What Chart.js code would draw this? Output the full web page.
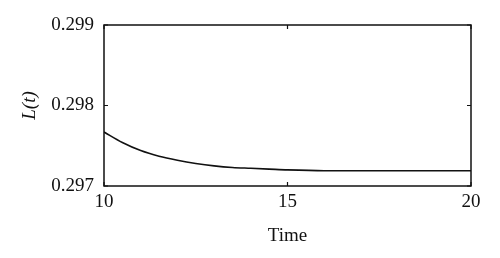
<!DOCTYPE html>
<html>
<head>
<meta charset="utf-8">
<script src="https://cdn.jsdelivr.net/npm/chart.js@4"></script>
<style>
  html, body { margin: 0; padding: 0; background: #fff; }
  #wrap { width: 500px; height: 258px; }
</style>
</head>
<body>
<div id="wrap"><canvas id="myChart" width="500" height="258"></canvas></div>
<script>
// values
var times = [10, 10.5, 11, 11.5, 12, 12.5, 13, 13.5, 14, 14.5, 15, 16, 17, 18, 19, 20];
var Lvalues = [0.29767, 0.29754, 0.29744, 0.29737, 0.29732, 0.29728, 0.29725, 0.29723,
               0.29722, 0.29721, 0.29720, 0.29719, 0.29719, 0.29719, 0.29719, 0.29719];
var xTicks = [10, 15, 20];
var yTicks = [0.297, 0.298, 0.299];

var serif = "'Liberation Serif', 'DejaVu Serif', serif";

var points = times.map(function(t, i) { return { x: t, y: Lvalues[i] }; });

// frame + inward tick marks like the original
var framePlugin = {
  id: 'frame',
  afterDatasetsDraw: function(chart) {
    var ctx = chart.ctx, a = chart.chartArea;
    var xs = chart.scales.x, ys = chart.scales.y;
    ctx.save();
    ctx.strokeStyle = '#111';
    ctx.lineWidth = 1.5;
    ctx.strokeRect(a.left, a.top, a.right - a.left, a.bottom - a.top);
    ctx.lineWidth = 1.2;
    ctx.beginPath();
    xTicks.forEach(function(v) {
      var px = xs.getPixelForValue(v);
      ctx.moveTo(px, a.bottom); ctx.lineTo(px, a.bottom - 4);
      ctx.moveTo(px, a.top); ctx.lineTo(px, a.top + 4);
    });
    yTicks.forEach(function(v) {
      var py = ys.getPixelForValue(v);
      ctx.moveTo(a.left, py); ctx.lineTo(a.left + 4, py);
      ctx.moveTo(a.right, py); ctx.lineTo(a.right - 4, py);
    });
    ctx.stroke();
    ctx.restore();
  }
};

var ctx = document.getElementById('myChart').getContext('2d');
var chart = new Chart(ctx, {
  type: 'line',
  data: {
    datasets: [{
      data: points,
      borderColor: '#111',
      borderWidth: 1.6,
      pointRadius: 0,
      fill: false,
      cubicInterpolationMode: 'monotone'
    }]
  },
  options: {
    responsive: false,
    animation: false,
    layout: { padding: { top: 25, right: 29, left: 0, bottom: 0 } },
    plugins: { legend: { display: false }, tooltip: { enabled: false } },
    scales: {
      x: {
        type: 'linear',
        min: 10, max: 20,
        afterBuildTicks: function(s) { s.ticks = xTicks.map(function(v) { return { value: v }; }); },
        afterFit: function(s) { s.height = 72; },
        grid: { display: false, drawTicks: false },
        border: { display: false },
        ticks: {
          color: '#111',
          font: { family: serif, size: 19 },
          padding: 5,
          maxRotation: 0
        },
        title: {
          display: true,
          text: 'Time',
          color: '#111',
          font: { family: serif, size: 19 },
          padding: { top: 0, bottom: 11 }
        }
      },
      y: {
        min: 0.297, max: 0.299,
        afterBuildTicks: function(s) { s.ticks = yTicks.map(function(v) { return { value: v }; }); },
        afterFit: function(s) { s.width = 104; },
        grid: { display: false, drawTicks: false },
        border: { display: false },
        ticks: {
          color: '#111',
          font: { family: serif, size: 19 },
          padding: 10,
          callback: function(v) { return v.toFixed(3); }
        },
        title: {
          display: true,
          text: 'L(t)',
          color: '#111',
          font: { family: serif, size: 19, style: 'italic' },
          padding: { top: 19, bottom: 6 }
        }
      }
    }
  },
  plugins: [framePlugin]
});
</script>
</body>
</html>
